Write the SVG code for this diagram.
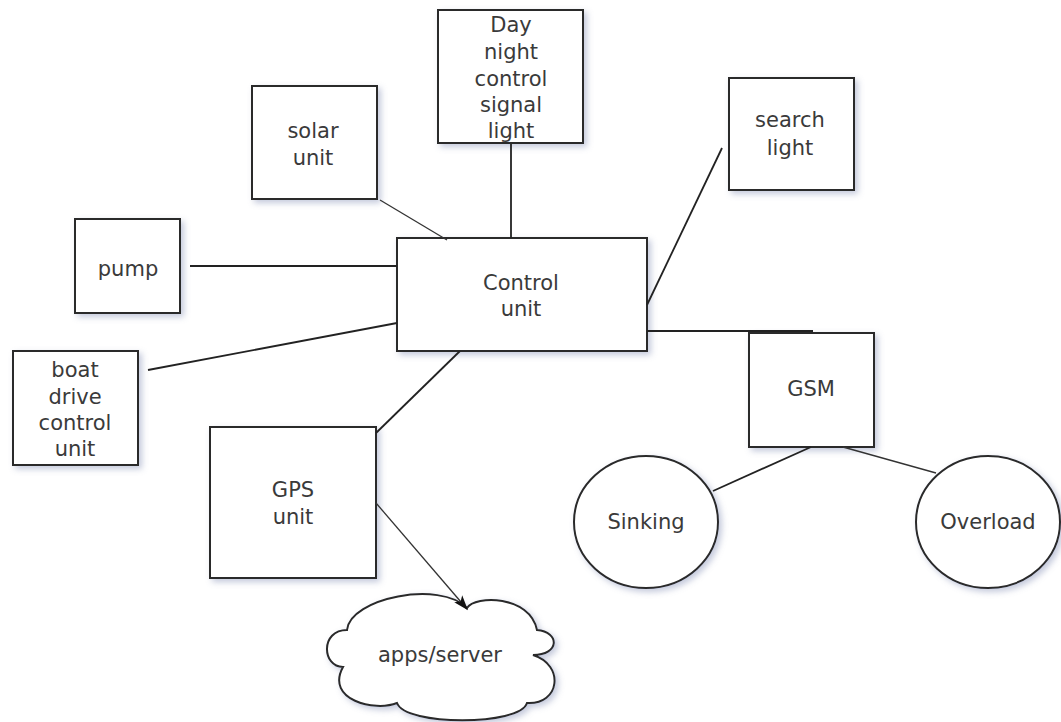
<svg xmlns="http://www.w3.org/2000/svg" width="1061" height="722" viewBox="0 0 1061 722">
  <style>
    .box { fill: #ffffff; stroke: #2a2a2a; stroke-width: 2; filter: url(#shadow); }
    .lbl { font-family: "DejaVu Sans", Verdana, sans-serif; font-size: 21px; fill: #3a3a3a; text-anchor: middle; }
    .edge { stroke: #222222; stroke-width: 1.8; fill: none; }
    .thin { stroke: #333333; stroke-width: 1.3; fill: none; }
  </style>
  <defs>
    <filter id="shadow" x="-20%" y="-20%" width="150%" height="150%">
      <feDropShadow dx="3" dy="3" stdDeviation="3" flood-color="#7d86b0" flood-opacity="0.45"/>
    </filter>
    <marker id="arrow" viewBox="0 0 10 10" refX="9" refY="5" markerWidth="15" markerHeight="15" orient="auto" markerUnits="userSpaceOnUse">
      <path d="M0,1.5 L10,5 L0,8.5 L2.5,5 Z" fill="#111111"/>
    </marker>
  </defs>
  <rect width="1061" height="722" fill="#ffffff"/>

  <g id="day-night">
    <rect class="box" x="438" y="10" width="145" height="133"/>
    <text class="lbl" x="511" y="32">Day</text>
    <text class="lbl" x="511" y="59">night</text>
    <text class="lbl" x="511" y="86">control</text>
    <text class="lbl" x="511" y="112">signal</text>
    <text class="lbl" x="511" y="138">light</text>
  </g>

  <g id="solar">
    <rect class="box" x="252" y="86" width="125" height="113"/>
    <text class="lbl" x="313" y="138">solar</text>
    <text class="lbl" x="313" y="165">unit</text>
  </g>

  <g id="search">
    <rect class="box" x="729" y="78" width="125" height="112"/>
    <text class="lbl" x="790" y="127">search</text>
    <text class="lbl" x="790" y="155">light</text>
  </g>

  <g id="pump">
    <rect class="box" x="75" y="219" width="105" height="94"/>
    <text class="lbl" x="128" y="276">pump</text>
  </g>

  <g id="control">
    <rect class="box" x="397" y="238" width="250" height="113"/>
    <text class="lbl" x="521" y="290">Control</text>
    <text class="lbl" x="521" y="316">unit</text>
  </g>

  <g id="boat-drive">
    <rect class="box" x="13" y="351" width="125" height="114"/>
    <text class="lbl" x="75" y="377">boat</text>
    <text class="lbl" x="75" y="404">drive</text>
    <text class="lbl" x="75" y="430">control</text>
    <text class="lbl" x="75" y="456">unit</text>
  </g>

  <g id="gsm">
    <rect class="box" x="749" y="333" width="125" height="114"/>
    <text class="lbl" x="811" y="396">GSM</text>
  </g>

  <g id="gps">
    <rect class="box" x="210" y="427" width="166" height="151"/>
    <text class="lbl" x="293" y="497">GPS</text>
    <text class="lbl" x="293" y="524">unit</text>
  </g>

  <g id="sinking">
    <ellipse class="box" cx="646" cy="522" rx="72" ry="66"/>
    <text class="lbl" x="646" y="529">Sinking</text>
  </g>

  <g id="overload">
    <ellipse class="box" cx="988" cy="522" rx="72" ry="66"/>
    <text class="lbl" x="988" y="529">Overload</text>
  </g>

  <g id="apps-server">
    <path class="box" d="M347,630 C350,598 440,580 467,608 C475,595 530,595 537,630 C560,632 560,655 533,655 C565,665 560,705 527,703 C520,726 405,726 397,703 C375,712 325,700 343,667 C322,667 320,630 347,630 Z"/>
    <text class="lbl" x="440" y="662">apps/server</text>
  </g>

  <!-- connectors, drawn last so the arrowhead sits on top of the cloud -->
  <g id="connectors">
    <line class="edge" x1="511" y1="144" x2="511" y2="238"/>
    <line class="thin" x1="380" y1="200" x2="447" y2="240"/>
    <line class="edge" x1="190" y1="266" x2="397" y2="266"/>
    <line class="edge" x1="148" y1="370" x2="397" y2="323"/>
    <line class="edge" x1="376" y1="433" x2="460" y2="351"/>
    <line class="edge" x1="722" y1="148" x2="647" y2="305"/>
    <line class="edge" x1="647" y1="331" x2="813" y2="331"/>
    <line class="edge" x1="811" y1="447" x2="713" y2="491"/>
    <line class="thin" x1="843" y1="447" x2="936" y2="473"/>
    <line class="thin" x1="376" y1="503" x2="467" y2="609" marker-end="url(#arrow)"/>
  </g>
</svg>
